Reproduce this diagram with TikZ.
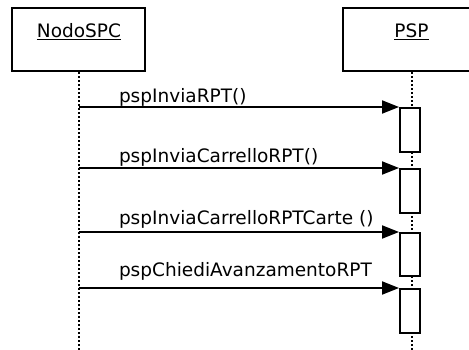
\documentclass[tikz,border=0pt]{standalone}
\usepackage{fontspec}
\setmainfont{DejaVu Sans}
\usepackage{tikz}
\usetikzlibrary{arrows.meta}

\begin{document}
\begin{tikzpicture}[
  x=1pt, y=-1pt,
  actor/.style={rectangle, draw, line width=2pt, minimum width=133pt, minimum height=63pt, inner sep=0pt},
  actname/.style={anchor=base, inner sep=0pt, font=\fontsize{18.5}{22}\selectfont},
  lifeline/.style={line width=2pt, dash pattern=on 2pt off 2pt},
  activation/.style={rectangle, draw, fill=white, line width=2pt, minimum width=20pt, minimum height=44pt, inner sep=0pt},
  msg/.style={-{Triangle[length=17pt,width=13pt]}, line width=2pt},
  msglabel/.style={anchor=base west, inner sep=0pt, font=\fontsize{18.5}{22}\selectfont},
]
\clip (0,0) rectangle (469,349);

% actors
\node[actor] (spc) at (78.5,39.5) {};
\node[actor, minimum width=137pt] (psp) at (411.5,39.5) {};
\node[actname] (spcname) at (79,37.5) {\underline{NodoSPC}};
\node[actname] (pspname) at (411.5,37.5) {\underline{PSP}};

% lifelines
\draw[lifeline] (spc.south) -- (78.5,352) coordinate (spcend);
\draw[lifeline] (psp.south) -- (411.5,352) coordinate (pspend);

% activations
\node[activation] (act1) at (410,130) {};
\node[activation] (act2) at (410,191) {};
\node[activation, minimum height=43pt] (act3) at (410,254.5) {};
\node[activation] (act4) at (410,311) {};

% messages
\foreach \i/\txt/\up in {1/{pspInviaRPT()}/5, 2/{pspInviaCarrelloRPT()}/6, 3/{pspInviaCarrelloRPTCarte ()}/8, 4/{pspChiediAvanzamentoRPT}/12}{
  \draw[msg] (act\i.north west -| spc.center) -- (act\i.north west)
    node[pos=0, msglabel, xshift=39.5pt, yshift=\up pt] (lbl\i) {\txt};
}
\end{tikzpicture}
\end{document}
